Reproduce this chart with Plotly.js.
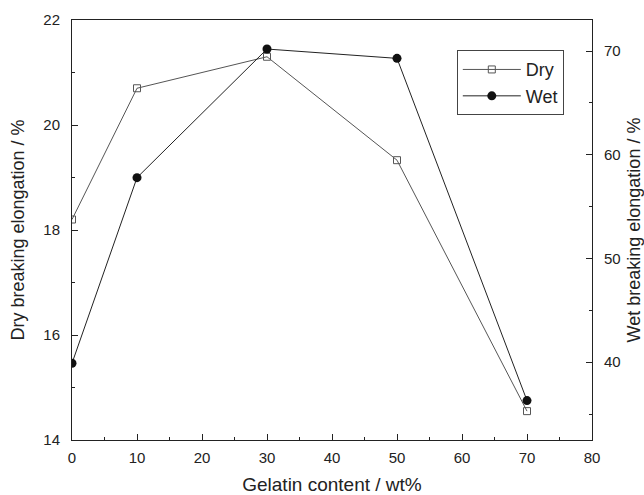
<!DOCTYPE html>
<html><head><meta charset="utf-8">
<script src="https://cdn.plot.ly/plotly-3.0.1.min.js"></script>
<style>body{margin:0;background:#fff}#c{width:644px;height:495px}</style>
</head><body><div id="c"></div>
<script>
const gelatin = [0, 10, 30, 50, 70];
const dryElong = [18.2, 20.7, 21.3, 19.33, 14.55];
const wetElong = [39.9, 57.8, 70.2, 69.3, 36.3];

const fam = 'Liberation Sans, Arial, sans-serif';
const ink = '#222';
const traces = [
  {x: gelatin, y: dryElong, name: 'Dry', type: 'scatter', mode: 'lines+markers',
   line: {color: '#555', width: 1}, marker: {symbol: 'square-open', size: 7, color: '#555', line: {width: 1}}},
  {x: gelatin, y: wetElong, name: 'Wet', type: 'scatter', mode: 'lines+markers', yaxis: 'y2',
   line: {color: ink, width: 1}, marker: {symbol: 'circle', size: 9, color: '#111'}}
];
const layout = {
  width: 644, height: 495,
  margin: {l: 72, r: 52, t: 20, b: 55},
  paper_bgcolor: '#fff', plot_bgcolor: '#fff',
  font: {family: fam, size: 15, color: ink},
  showlegend: true,
  legend: {x: 0.74, y: 0.928, xanchor: 'left', yanchor: 'top', bordercolor: '#444', borderwidth: 1,
           bgcolor: '#fff', font: {family: fam, size: 18, color: ink}, itemwidth: 58, tracegroupgap: 0},
  xaxis: {range: [0, 80], dtick: 10, ticks: 'inside', ticklen: 6, tickcolor: ink, ticklabelstandoff: 4,
          minor: {dtick: 5, ticks: 'inside', ticklen: 3, tickcolor: ink},
          showline: true, linecolor: ink, linewidth: 1, mirror: true, showgrid: false, zeroline: false,
          title: {text: 'Gelatin content / wt%', font: {family: fam, size: 19}, standoff: 15}},
  yaxis: {range: [14, 22], dtick: 2, ticks: 'inside', ticklen: 6, tickcolor: ink, ticklabelstandoff: 8,
          minor: {dtick: 1, ticks: 'inside', ticklen: 3, tickcolor: ink},
          showline: true, linecolor: ink, linewidth: 1, showgrid: false, zeroline: false,
          title: {text: 'Dry breaking elongation / %', font: {family: fam, size: 18}, standoff: 14}},
  yaxis2: {overlaying: 'y', side: 'right', range: [32.5, 73], tickvals: [40, 50, 60, 70], ticks: 'inside', ticklen: 6, tickcolor: ink, ticklabelstandoff: 8,
          minor: {tickvals: [35, 45, 55, 65], ticks: 'inside', ticklen: 3, tickcolor: ink},
          showline: true, linecolor: ink, linewidth: 1, showgrid: false, zeroline: false,
          title: {text: 'Wet breaking elongation / %', font: {family: fam, size: 18}, standoff: 10}}
};
Plotly.newPlot('c', traces, layout, {displayModeBar: false, staticPlot: true});
</script></body></html>
